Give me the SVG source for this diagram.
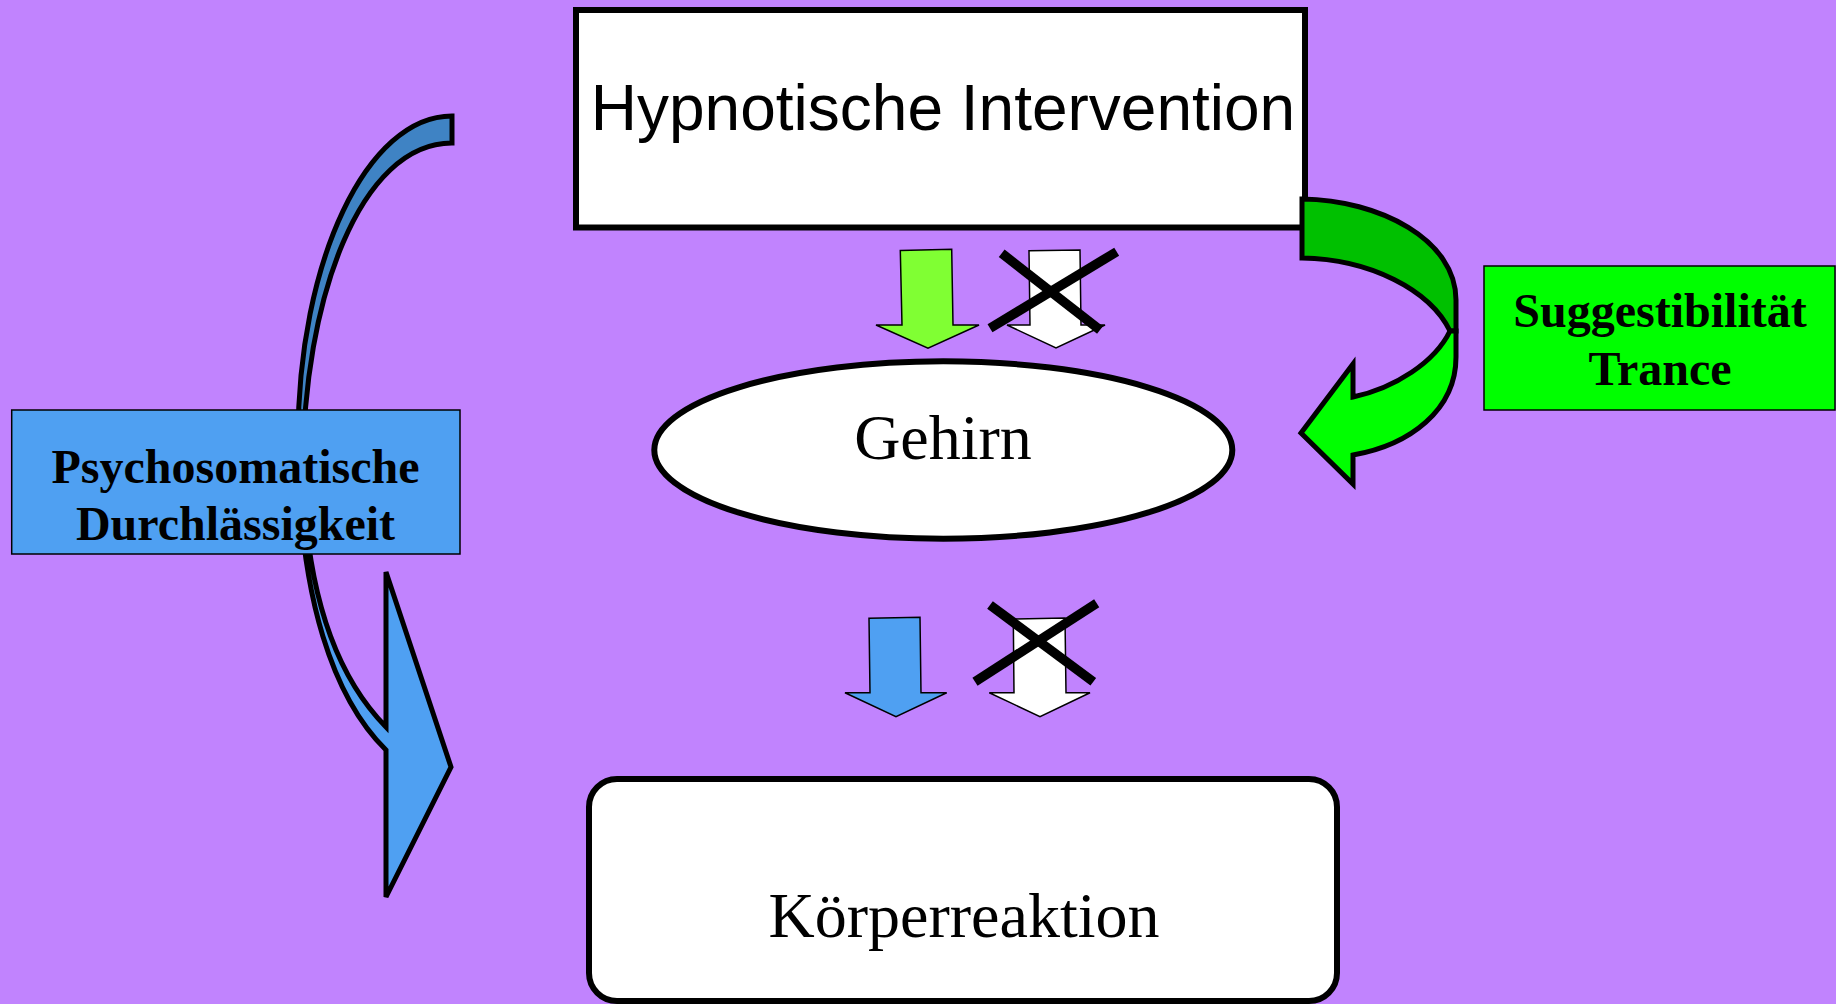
<svg xmlns="http://www.w3.org/2000/svg" width="1836" height="1004" viewBox="0 0 1836 1004">
<defs>
<style>
.node{fill:#FFFFFF;stroke:#000000;stroke-width:6}
.sans{font-family:"Liberation Sans",Arial,sans-serif;font-size:64px;fill:#000}
.serif{font-family:"Liberation Serif","Times New Roman",serif;font-size:64px;fill:#000}
.label{font-family:"Liberation Serif","Times New Roman",serif;font-size:48px;font-weight:bold;fill:#000}
.lbox{stroke:#000;stroke-width:1.5}
.small{stroke:#000;stroke-width:1.5;stroke-linejoin:miter}
.curve{stroke:#000;stroke-width:5;stroke-linejoin:miter}
.x{stroke:#000;stroke-width:9.5;stroke-linecap:butt}
</style>
<linearGradient id="blueband" gradientUnits="userSpaceOnUse" x1="0" y1="100" x2="0" y2="910">
<stop offset="0" stop-color="#3F83C4"/>
<stop offset="0.47" stop-color="#3F83C4"/>
<stop offset="0.47" stop-color="#4FA0F2"/>
<stop offset="1" stop-color="#4FA0F2"/>
</linearGradient>
</defs>
<rect x="0" y="0" width="1836" height="1004" fill="#C183FE"/>
<g id="node-hypnotische-intervention">
<rect class="node" x="576" y="10" width="729" height="217.5"/>
<text class="sans" x="943" y="130" text-anchor="middle">Hypnotische Intervention</text>
</g>
<g id="node-gehirn">
<ellipse class="node" cx="943.3" cy="450" rx="289" ry="88.7" stroke-width="6.5"/>
<text class="serif" x="943" y="459" text-anchor="middle">Gehirn</text>
</g>
<g id="node-koerperreaktion">
<rect class="node" x="589" y="779" width="748" height="222" rx="28" ry="28" stroke-width="7"/>
<text class="serif" x="964" y="937" text-anchor="middle">Körperreaktion</text>
</g>
<g id="connectors">
<path class="curve" fill="url(#blueband)" d="M452,116 C367,116 298,261 298,440 C298,600 335,700 386,750 L386,897 L451,767 L386,572 L386,727 C340,680 306,600 303,470 C303,300 360,143 452,143 Z"/>
<path class="curve" fill="#00C000" d="M1302,199 C1380,200 1456,240 1456,300 L1456,331 L1450,331 C1430,290 1370,259 1302,258 Z"/>
<path class="curve" fill="#00FF00" d="M1450,331 L1456,331 L1456,357 C1456,410 1410,445 1353,455 L1353,484 L1301,433 L1353,364 L1353,397 C1395,388 1435,362 1450,331 Z"/>
<polygon class="small" fill="#80FF33" points="900.3,250.5 951.7,249.3 953,325 979,325 928,348.3 876,325 902,325"/>
<polygon class="small" fill="#FFFFFF" points="1029,250.7 1080,250 1081,325 1105,325 1056,348 1007,325 1030,325"/>
<line class="x" x1="1001.7" y1="253.3" x2="1100" y2="330"/>
<line class="x" x1="1116.7" y1="251.7" x2="990" y2="328.3"/>
<polygon class="small" fill="#4FA0F2" points="869,618.3 920,617.3 921,692.7 946.7,692.7 896,716.7 845,692.7 870,692.7"/>
<polygon class="small" fill="#FFFFFF" points="1013.3,619 1065,618 1066,692.7 1090,692.7 1040,716.7 989.3,692.7 1014,692.7"/>
<line class="x" x1="990" y1="605" x2="1093.3" y2="681.7"/>
<line class="x" x1="1096.7" y1="603.3" x2="975" y2="681.7"/>
</g>
<g id="node-psychosomatische-durchlaessigkeit">
<rect class="lbox" fill="#4FA0F2" x="11.7" y="410" width="448.3" height="144"/>
<text class="label" x="235.5" y="482.7" text-anchor="middle">Psychosomatische</text>
<text class="label" x="235.5" y="540" text-anchor="middle">Durchlässigkeit</text>
</g>
<g id="node-suggestibilitaet-trance">
<rect class="lbox" fill="#00FF00" x="1484" y="266" width="351" height="144"/>
<text class="label" x="1660" y="327" text-anchor="middle">Suggestibilität</text>
<text class="label" x="1660" y="385" text-anchor="middle">Trance</text>
</g>
</svg>
